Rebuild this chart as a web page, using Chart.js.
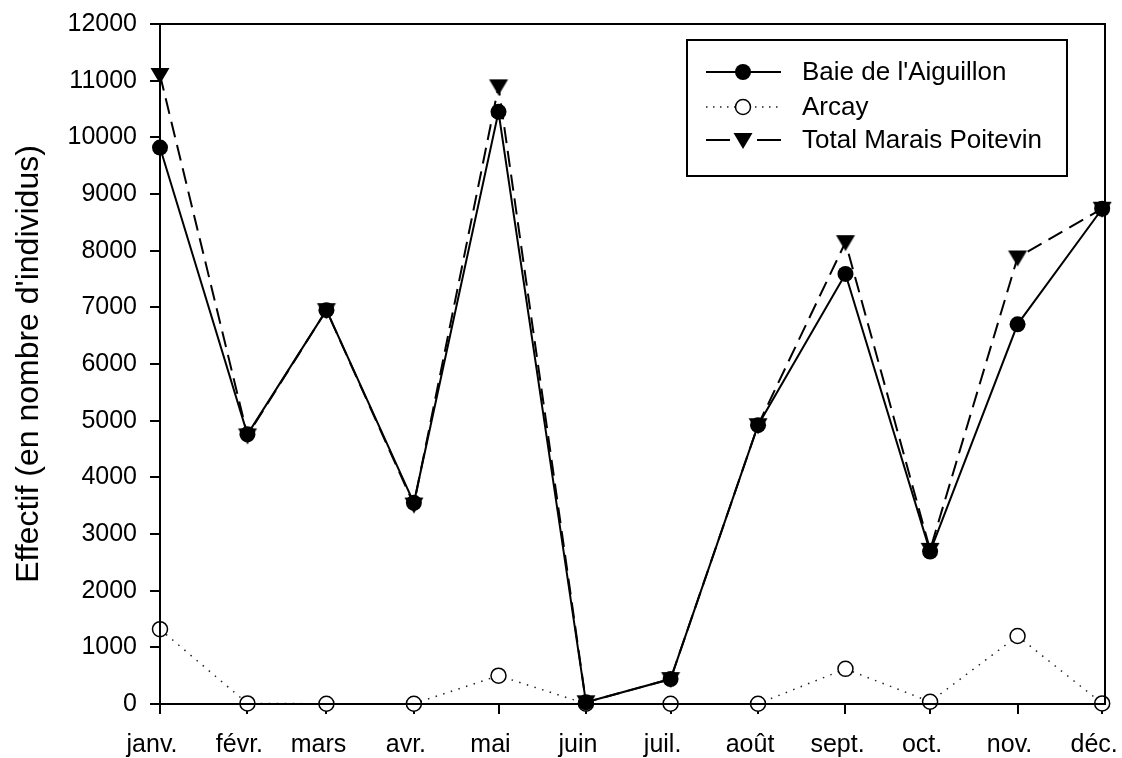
<!DOCTYPE html>
<html>
<head>
<meta charset="utf-8">
<script src="https://cdn.jsdelivr.net/npm/chart.js@4/dist/chart.umd.min.js"></script>
<style>
html,body{margin:0;padding:0;background:#fff;}
#wrap{width:1122px;height:758px;}
</style>
</head>
<body>
<div id="wrap"><canvas id="c" width="1122" height="758"></canvas></div>
<script>
const monthLabels = ['janv.','févr.','mars','avr.','mai','juin','juil.','août','sept.','oct.','nov.','déc.'];
const monthDays = [0,31,59,90,120,151,181,212,243,273,304,334];
const yTicks = [0,1000,2000,3000,4000,5000,6000,7000,8000,9000,10000,11000,12000];
const baie = [9820,4760,6950,3550,10450,30,440,4920,7590,2690,6700,8740];
const arcay = [1320,10,5,5,500,5,5,5,620,40,1200,10];
const total = [11100,4740,6950,3520,10900,30,440,4920,8150,2720,7880,8740];
const seriesNames = ["Baie de l'Aiguillon", 'Arcay', 'Total Marais Poitevin'];

const FONT = "'Liberation Sans', Arial, sans-serif";
const toPts = arr => arr.map((v,i)=>({x: monthDays[i], y: v}));

const frame = {
  id:'frame',
  afterDatasetsDraw(chart){
    const {ctx, chartArea:a} = chart;
    ctx.save();
    ctx.strokeStyle='#000'; ctx.lineWidth=2;
    ctx.strokeRect(a.left, a.top, a.right-a.left, a.bottom-a.top);
    ctx.restore();
  }
};

function drawMarker(ctx, style, x, y){
  ctx.save();
  ctx.lineWidth = 1.5; ctx.strokeStyle='#000';
  if(style==='circle-filled'){
    ctx.beginPath(); ctx.arc(x,y,8,0,Math.PI*2); ctx.fillStyle='#000'; ctx.fill();
  } else if(style==='circle-open'){
    ctx.beginPath(); ctx.arc(x,y,7.5,0,Math.PI*2); ctx.fillStyle='#fff'; ctx.fill(); ctx.stroke();
  } else {
    ctx.beginPath(); ctx.moveTo(x-9.5,y-7); ctx.lineTo(x+9.5,y-7); ctx.lineTo(x,y+9); ctx.closePath();
    ctx.fillStyle='#000'; ctx.fill();
  }
  ctx.restore();
}

const boxLegend = {
  id:'boxLegend',
  afterDraw(chart){
    const {ctx, chartArea:a} = chart;
    const x0 = a.left + 527, y0 = a.top + 16, w = 380, h = 136;
    ctx.save();
    ctx.fillStyle='#fff'; ctx.fillRect(x0,y0,w,h);
    ctx.strokeStyle='#000'; ctx.lineWidth=2; ctx.strokeRect(x0,y0,w,h);
    const rows = [y0+32, y0+67, y0+100];
    const styles = [
      {dash:[], lw:2, m:'circle-filled', col:'#000'},
      {dash:[1.5,5.5], lw:1.5, m:'circle-open', col:'#222'},
      {dash:[24,27], lw:2, m:'tri', col:'#000'}
    ];
    const lx0 = x0+19, lx1 = x0+94, mx = x0+56;
    styles.forEach((s,i)=>{
      ctx.save();
      ctx.beginPath(); ctx.setLineDash(s.dash); ctx.lineWidth=s.lw; ctx.strokeStyle=s.col;
      ctx.moveTo(lx0, rows[i]); ctx.lineTo(lx1, rows[i]); ctx.stroke();
      ctx.restore();
      drawMarker(ctx, s.m, mx, rows[i]);
      ctx.fillStyle='#000'; ctx.font = '26px '+FONT; ctx.textBaseline='middle'; ctx.textAlign='left';
      ctx.fillText(chart.data.datasets[i].label, x0+115, rows[i]+1);
    });
    ctx.restore();
  }
};

const triCanvas = (()=>{
  const c = document.createElement('canvas'); c.width=22; c.height=22;
  const g = c.getContext('2d');
  g.beginPath(); g.moveTo(1.5,4); g.lineTo(20.5,4); g.lineTo(11,20); g.closePath(); g.fillStyle='#000'; g.fill();
  return c;
})();

new Chart(document.getElementById('c'), {
  type:'line',
  data:{
    datasets:[
      {label:seriesNames[0], data:toPts(baie), borderColor:'#000', borderWidth:2, pointStyle:'circle', pointRadius:8, pointBackgroundColor:'#000', pointBorderColor:'#000', pointBorderWidth:0, clip:false, order:1},
      {label:seriesNames[1], data:toPts(arcay), borderColor:'#222', borderWidth:1.5, borderDash:[1.5,6.5], pointStyle:'circle', pointRadius:7.5, pointBackgroundColor:'#fff', pointBorderColor:'#000', pointBorderWidth:1.5, clip:false, order:3},
      {label:seriesNames[2], data:toPts(total), borderColor:'#000', borderWidth:2, borderDash:[16,8], pointStyle:triCanvas, pointRadius:10, clip:false, order:2}
    ]
  },
  options:{
    responsive:false, animation:false, devicePixelRatio:1,
    layout:{padding:{left:0, top:24, right:17, bottom:0}},
    plugins:{legend:{display:false}, tooltip:{enabled:false}},
    elements:{line:{tension:0}},
    scales:{
      x:{
        type:'linear', min:0, max:335,
        afterBuildTicks(s){ s.ticks = monthDays.map(v=>({value:v})); },
        afterFit(s){ s.height = 54; s.paddingLeft=0; s.paddingRight=0; },
        grid:{drawOnChartArea:false, drawTicks:true, tickLength:10, color:'#000', lineWidth:2},
        border:{display:false},
        ticks:{autoSkip:false, maxRotation:0, padding:16, labelOffset:-8, color:'#000', font:{family:FONT, size:25},
          callback(v){ const i = monthDays.indexOf(v); return i>=0 ? monthLabels[i] : ''; }}
      },
      y:{
        min:0, max:12000,
        afterBuildTicks(s){ s.ticks = yTicks.map(v=>({value:v})); },
        afterFit(s){ s.width = 160; s.paddingTop=0; s.paddingBottom=0; },
        grid:{drawOnChartArea:false, drawTicks:true, tickLength:10, color:'#000', lineWidth:2},
        border:{display:false},
        ticks:{padding:13, color:'#000', font:{family:FONT, size:25}, callback(v){ return String(v); }},
        title:{display:true, text:"Effectif (en nombre d'individus)", color:'#000', font:{family:FONT, size:32}, padding:{top:10, bottom:0}}
      }
    }
  },
  plugins:[frame, boxLegend]
});
</script>
</body>
</html>
